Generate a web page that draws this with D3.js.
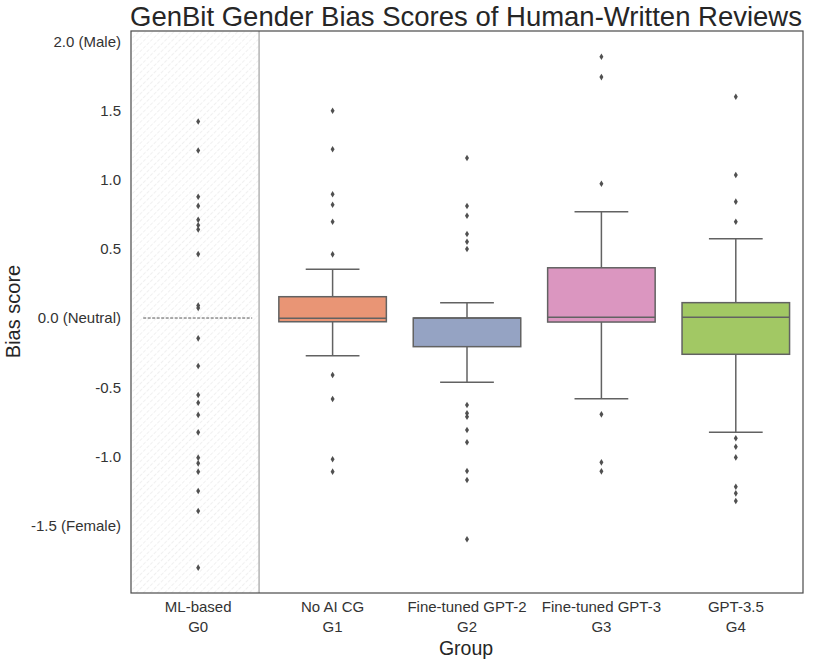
<!DOCTYPE html>
<html>
<head>
<meta charset="utf-8">
<script src="https://cdn.jsdelivr.net/npm/d3@7"></script>
<style>
  body { margin: 0; background: #fff; }
  text { font-family: "Liberation Sans", Arial, sans-serif; }
</style>
</head>
<body>
<div id="container"></div>
<script>
// groups on the x axis
const groups = ['G0', 'G1', 'G2', 'G3', 'G4'];
const groupNames = ['ML-based', 'No AI CG', 'Fine-tuned GPT-2', 'Fine-tuned GPT-3', 'GPT-3.5'];
const boxColors = [null, '#e99575', '#95a3c3', '#db96c0', '#a2c864'];

// box stats (G0 has no box)
const whiskerLow = [null, -0.272, -0.465, -0.583, -0.826];
const q1 = [null, -0.027, -0.207, -0.029, -0.262];
const median = [null, -0.002, 0.0, 0.005, 0.005];
const q3 = [null, 0.154, 0.0, 0.363, 0.111];
const whiskerHigh = [null, 0.352, 0.111, 0.768, 0.573];

// single points (G0 shows all its points, others only outliers)
const pointsG0 = [1.42, 1.21, 0.876, 0.81, 0.71, 0.67, 0.64, 0.462, 0.09, 0.072, -0.147, -0.347,
  -0.556, -0.612, -0.70, -0.826, -1.009, -1.05, -1.11, -1.25, -1.395, -1.804];
const outG1 = [1.498, 1.219, 0.894, 0.819, 0.696, 0.46, -0.412, -0.585, -1.021, -1.11];
const outG2 = [1.156, 0.809, 0.739, 0.607, 0.551, 0.499, -0.629, -0.689, -0.713, -0.809, -0.898, -1.105, -1.171, -1.599];
const outG3 = [1.888, 1.741, 0.97, -0.696, -1.043, -1.108];
const outG4 = [1.599, 1.033, 0.841, 0.696, -0.869, -0.93, -1.007, -1.219, -1.267, -1.322];
const allPoints = [pointsG0, outG1, outG2, outG3, outG4];

const g0Line = 0.0; // dashed neutral line in the G0 column

const yTicks = [2.0, 1.5, 1.0, 0.5, 0.0, -0.5, -1.0, -1.5];
const yTickLabels = ['2.0 (Male)', '1.5', '1.0', '0.5', '0.0 (Neutral)', '-0.5', '-1.0', '-1.5 (Female)'];

const svgWidth = 830, svgHeight = 667;
const plotLeft = 131, plotRight = 803, plotTop = 31, plotBottom = 593;

const svg = d3.select('#container').append('svg')
  .attr('width', svgWidth)
  .attr('height', svgHeight);

const xScale = d3.scaleBand().domain(groups).range([plotLeft, plotRight]).paddingInner(0).paddingOuter(0);
const yScale = d3.scaleLinear().domain([-1.987, 2.074]).range([plotBottom, plotTop]);
const step = xScale.bandwidth();
const boxW = step * 0.8;

// hatch pattern for ML-based column
const defs = svg.append('defs');
const pat = defs.append('pattern')
  .attr('id', 'hatch')
  .attr('patternUnits', 'userSpaceOnUse')
  .attr('width', 5).attr('height', 5)
  .attr('patternTransform', 'rotate(45)');
pat.append('line')
  .attr('x1', 0).attr('y1', 0).attr('x2', 0).attr('y2', 5)
  .attr('stroke', '#e2e2e2').attr('stroke-width', 1)
  .attr('stroke-dasharray', '3,1.5');

const sepX = xScale('G0') + step * 0.953;
svg.append('rect')
  .attr('x', xScale('G0')).attr('y', plotTop)
  .attr('width', sepX - xScale('G0')).attr('height', plotBottom - plotTop)
  .attr('fill', 'url(#hatch)');

svg.append('line')
  .attr('x1', sepX).attr('x2', sepX).attr('y1', plotTop).attr('y2', plotBottom)
  .attr('stroke', '#a8a8a8').attr('stroke-width', 1.3);

// dashed neutral line in G0
const c0 = xScale('G0') + step / 2;
svg.append('line')
  .attr('x1', c0 - 55).attr('x2', c0 + 54)
  .attr('y1', yScale(g0Line)).attr('y2', yScale(g0Line))
  .attr('stroke', '#555').attr('stroke-width', 1)
  .attr('stroke-dasharray', '3,1.5');

const lineCol = '#626262';

// boxes
groups.forEach(function (g, i) {
  if (q1[i] === null) return;
  const cx = xScale(g) + step / 2;
  const grp = svg.append('g');
  grp.append('line')
    .attr('x1', cx).attr('x2', cx)
    .attr('y1', yScale(whiskerHigh[i])).attr('y2', yScale(q3[i]))
    .attr('stroke', lineCol).attr('stroke-width', 1.5);
  grp.append('line')
    .attr('x1', cx).attr('x2', cx)
    .attr('y1', yScale(q1[i])).attr('y2', yScale(whiskerLow[i]))
    .attr('stroke', lineCol).attr('stroke-width', 1.5);
  [whiskerHigh[i], whiskerLow[i]].forEach(function (v) {
    grp.append('line')
      .attr('x1', cx - boxW / 4).attr('x2', cx + boxW / 4)
      .attr('y1', yScale(v)).attr('y2', yScale(v))
      .attr('stroke', lineCol).attr('stroke-width', 1.5);
  });
  grp.append('rect')
    .attr('x', cx - boxW / 2).attr('width', boxW)
    .attr('y', yScale(q3[i])).attr('height', Math.max(yScale(q1[i]) - yScale(q3[i]), 0.5))
    .attr('fill', boxColors[i])
    .attr('stroke', lineCol).attr('stroke-width', 1.5);
  grp.append('line')
    .attr('x1', cx - boxW / 2).attr('x2', cx + boxW / 2)
    .attr('y1', yScale(median[i])).attr('y2', yScale(median[i]))
    .attr('stroke', lineCol).attr('stroke-width', 1.5);
});

// diamonds
const diamond = 'M0,-3.3L2,0L0,3.3L-2,0Z';
groups.forEach(function (g, i) {
  const cx = xScale(g) + step / 2;
  svg.append('g').selectAll('path')
    .data(allPoints[i])
    .enter()
    .append('path')
    .attr('d', diamond)
    .attr('transform', (d) => `translate(${cx},${yScale(d)})`)
    .attr('fill', '#505050');
});

// frame
svg.append('rect')
  .attr('x', plotLeft).attr('y', plotTop)
  .attr('width', plotRight - plotLeft).attr('height', plotBottom - plotTop)
  .attr('fill', 'none').attr('stroke', '#4a4a4a').attr('stroke-width', 1.2);

// y axis labels
const yAxis = d3.axisLeft(yScale)
  .tickValues(yTicks)
  .tickSize(0)
  .tickPadding(10)
  .tickFormat((d, i) => yTickLabels[i]);
const yg = svg.append('g')
  .attr('transform', `translate(${plotLeft},0)`)
  .call(yAxis);
yg.select('.domain').remove();
yg.selectAll('text').attr('font-size', 15).attr('fill', '#333')
  .style('font-family', '"Liberation Sans", Arial, sans-serif');

// x axis labels, two lines each
const xAxis = d3.axisBottom(xScale).tickSize(0).tickFormat('');
const xg = svg.append('g')
  .attr('transform', `translate(0,${plotBottom})`)
  .call(xAxis);
xg.select('.domain').remove();
xg.selectAll('.tick').each(function (d, i) {
  const t = d3.select(this).append('text')
    .attr('fill', '#333')
    .attr('font-size', 15)
    .attr('text-anchor', 'middle')
    .style('font-family', '"Liberation Sans", Arial, sans-serif');
  t.append('tspan').attr('x', 0).attr('y', 19).text(groupNames[i]);
  t.append('tspan').attr('x', 0).attr('y', 39).text(groups[i]);
});

// titles
svg.append('text')
  .attr('x', 466).attr('y', 26)
  .attr('text-anchor', 'middle')
  .attr('font-size', 27.5)
  .attr('fill', '#262626')
  .text('GenBit Gender Bias Scores of Human-Written Reviews');

svg.append('text')
  .attr('x', 466).attr('y', 655)
  .attr('text-anchor', 'middle')
  .attr('font-size', 19.5)
  .attr('fill', '#262626')
  .text('Group');

svg.append('text')
  .attr('transform', 'translate(20,311.5) rotate(-90)')
  .attr('text-anchor', 'middle')
  .attr('font-size', 20)
  .attr('fill', '#262626')
  .text('Bias score');
</script>
</body>
</html>
